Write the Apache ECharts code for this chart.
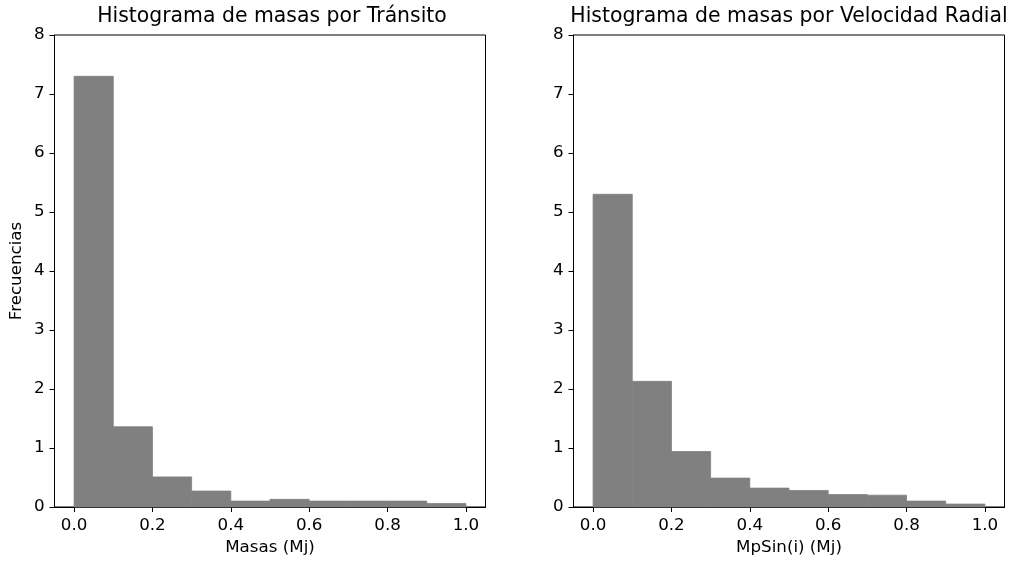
<!DOCTYPE html>
<html>
<head>
<meta charset="utf-8">
<script src="https://cdn.jsdelivr.net/npm/echarts@6/dist/echarts.min.js"></script>
<style>
html,body{margin:0;padding:0;background:#fff;}
#chart{width:1013px;height:563px;}
</style>
</head>
<body>
<div id="chart"></div>
<script>
// Bin edges shared by both histograms (Mj)
const binEdges = [0.0, 0.1, 0.2, 0.3, 0.4, 0.5, 0.6, 0.7, 0.8, 0.9, 1.0];
// Normalised frequencies per bin
const transitoFreq = [7.30, 1.36, 0.51, 0.27, 0.10, 0.13, 0.10, 0.10, 0.10, 0.06];
const velocidadFreq = [5.30, 2.13, 0.94, 0.49, 0.32, 0.28, 0.21, 0.20, 0.10, 0.05];
const xTicks = [0.0, 0.2, 0.4, 0.6, 0.8, 1.0];
const titles = ['Histograma de masas por Tránsito', 'Histograma de masas por Velocidad Radial'];
const xNames = ['Masas (Mj)', 'MpSin(i) (Mj)'];
const yName = 'Frecuencias';

const FONT = 'DejaVu Sans';
const TICK_FS = 16.7;
const TITLE_FS = 20.4;
const chart = echarts.init(document.getElementById('chart'), null, {renderer: 'canvas'});

function binData(freq) {
  return freq.map((v, i) => [binEdges[i], binEdges[i + 1], v]);
}

const grids = [
  {left: 54.5, top: 35, width: 431, height: 472},
  {left: 573.5, top: 35, width: 431, height: 472}
];

function xAxis(i) {
  return {
    type: 'value', gridIndex: i, min: -0.05, max: 1.05,
    name: xNames[i], nameLocation: 'middle', nameGap: 32,
    nameTextStyle: {fontFamily: FONT, fontSize: TICK_FS, color: '#000'},
    axisLine: {show: true, onZero: false, lineStyle: {color: '#000', width: 1}},
    axisTick: {show: true, length: 5, inside: false, customValues: xTicks, lineStyle: {color: '#000'}},
    axisLabel: {customValues: xTicks, margin: 10, fontFamily: FONT, fontSize: TICK_FS, color: '#000',
      formatter: v => Number(v).toFixed(1)},
    splitLine: {show: false}
  };
}

function yAxis(i) {
  return {
    type: 'value', gridIndex: i, min: 0, max: 8, interval: 1,
    name: i === 0 ? yName : '', nameLocation: 'middle', nameGap: 29,
    nameTextStyle: {fontFamily: FONT, fontSize: TICK_FS, color: '#000'},
    axisLine: {show: true, onZero: false, lineStyle: {color: '#000', width: 1}},
    axisTick: {show: true, length: 5, lineStyle: {color: '#000'}},
    axisLabel: {margin: 10, fontFamily: FONT, fontSize: TICK_FS, color: '#000'},
    splitLine: {show: false}
  };
}

function histSeries(i, freq) {
  return {
    type: 'custom', xAxisIndex: i, yAxisIndex: i,
    data: binData(freq),
    encode: {x: [0, 1], y: 2},
    renderItem: function (params, api) {
      const p0 = api.coord([api.value(0), api.value(2)]);
      const p1 = api.coord([api.value(1), 0]);
      return {
        type: 'rect',
        shape: {x: p0[0], y: p0[1], width: p1[0] - p0[0], height: p1[1] - p0[1]},
        style: {fill: '#808080', stroke: '#808080', lineWidth: 0.8}
      };
    },
    silent: true,
    animation: false
  };
}

chart.setOption({
  backgroundColor: '#fff',
  animation: false,
  title: [
    {text: titles[0], left: 267, top: 2, textAlign: 'center',
      textStyle: {fontFamily: FONT, fontSize: TITLE_FS, fontWeight: 'normal', color: '#000'}},
    {text: titles[1], left: 784, top: 2, textAlign: 'center',
      textStyle: {fontFamily: FONT, fontSize: TITLE_FS, fontWeight: 'normal', color: '#000'}}
  ],
  grid: grids.map(g => Object.assign({show: true, borderColor: '#000', borderWidth: 1, backgroundColor: 'transparent'}, g)),
  xAxis: [xAxis(0), xAxis(1)],
  yAxis: [yAxis(0), yAxis(1)],
  series: [histSeries(0, transitoFreq), histSeries(1, velocidadFreq)]
});
</script>
</body>
</html>
